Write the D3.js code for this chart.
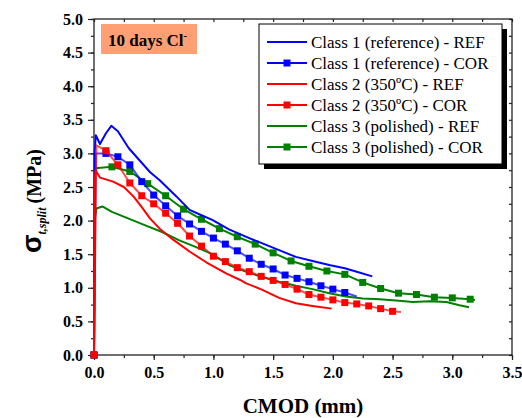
<!DOCTYPE html>
<html>
<head>
<meta charset="utf-8">
<script src="https://cdn.jsdelivr.net/npm/d3@7"></script>
<style>
  body { margin: 0; background: #fff; }
  svg { display: block; }
</style>
</head>
<body>
<svg width="522" height="418"></svg>
<script>
// ---- data ----
var xTicks = [0, 0.5, 1, 1.5, 2, 2.5, 3, 3.5];
var yTicks = [0, 0.5, 1, 1.5, 2, 2.5, 3, 3.5, 4, 4.5, 5];

// Class 1 (reference) - REF
var c1RefX = [0, 0.005, 0.015, 0.05, 0.10, 0.145, 0.20, 0.29, 0.39, 0.47, 0.55, 0.69, 0.80, 0.90, 0.99, 1.13, 1.30, 1.41, 1.55, 1.69, 1.83, 1.97, 2.10, 2.20, 2.33];
var c1RefY = [0, 3.00, 3.27, 3.14, 3.30, 3.41, 3.33, 3.08, 2.88, 2.72, 2.60, 2.36, 2.16, 2.08, 2.01, 1.87, 1.74, 1.66, 1.56, 1.46, 1.40, 1.34, 1.29, 1.24, 1.17];
// Class 1 (reference) - COR
var c1CorX = [0, 0.015, 0.1, 0.2, 0.3, 0.4, 0.5, 0.6, 0.7, 0.8, 0.9, 1.0, 1.1, 1.2, 1.3, 1.4, 1.5, 1.6, 1.7, 1.8, 1.9, 2.0, 2.1, 2.2];
var c1CorY = [0, 3.00, 3.00, 2.95, 2.83, 2.58, 2.38, 2.22, 2.07, 1.95, 1.84, 1.74, 1.65, 1.55, 1.44, 1.35, 1.28, 1.19, 1.14, 1.09, 1.03, 0.98, 0.93, 0.87];
// Class 2 (350ºC) - REF
var c2RefX = [0, 0.005, 0.012, 0.05, 0.16, 0.25, 0.33, 0.40, 0.47, 0.55, 0.66, 0.80, 0.94, 1.11, 1.22, 1.27, 1.41, 1.55, 1.69, 1.83, 1.99];
var c2RefY = [0, 2.50, 2.75, 2.64, 2.58, 2.50, 2.36, 2.20, 2.03, 1.88, 1.72, 1.54, 1.38, 1.21, 1.12, 1.07, 0.97, 0.85, 0.77, 0.73, 0.69];
// Class 2 (350ºC) - COR
var c2CorX = [0, 0.02, 0.1, 0.2, 0.3, 0.4, 0.5, 0.6, 0.7, 0.8, 0.9, 1.0, 1.1, 1.2, 1.3, 1.4, 1.5, 1.6, 1.7, 1.8, 1.9, 2.0, 2.1, 2.2, 2.3, 2.4, 2.5, 2.57];
var c2CorY = [0, 3.12, 3.04, 2.83, 2.56, 2.37, 2.25, 2.11, 1.96, 1.77, 1.62, 1.47, 1.39, 1.30, 1.24, 1.17, 1.11, 1.05, 0.98, 0.90, 0.86, 0.82, 0.78, 0.76, 0.73, 0.69, 0.65, 0.64];
// Class 3 (polished) - REF
var c3RefX = [0, 0.005, 0.02, 0.07, 0.15, 0.29, 0.43, 0.57, 0.71, 0.85, 0.99, 1.13, 1.27, 1.41, 1.55, 1.69, 1.83, 1.97, 2.11, 2.25, 2.39, 2.53, 2.67, 2.81, 2.95, 3.06, 3.14];
var c3RefY = [0, 2.00, 2.18, 2.21, 2.13, 2.03, 1.93, 1.83, 1.71, 1.61, 1.50, 1.34, 1.24, 1.16, 1.09, 1.03, 0.98, 0.92, 0.87, 0.84, 0.83, 0.81, 0.79, 0.80, 0.79, 0.74, 0.71];
// Class 3 (polished) - COR
var c3CorX = [0, 0.01, 0.15, 0.30, 0.45, 0.60, 0.75, 0.90, 1.05, 1.20, 1.35, 1.50, 1.65, 1.80, 1.95, 2.10, 2.25, 2.40, 2.55, 2.70, 2.85, 3.00, 3.15, 3.19];
var c3CorY = [0, 2.78, 2.80, 2.73, 2.55, 2.37, 2.17, 2.02, 1.88, 1.76, 1.65, 1.52, 1.40, 1.32, 1.25, 1.20, 1.08, 0.99, 0.92, 0.90, 0.86, 0.85, 0.83, 0.82];

var legendNames = ["Class 1 (reference) - REF", "Class 1 (reference) - COR",
                   "Class 2 (350ºC) - REF", "Class 2 (350ºC) - COR",
                   "Class 3 (polished) - REF", "Class 3 (polished) - COR"];

// ---- series table (drawing order: green, blue, red) ----
var series = [
  { name: legendNames[4], x: c3RefX, y: c3RefY, color: "#008000", cor: false },
  { name: legendNames[5], x: c3CorX, y: c3CorY, color: "#008000", cor: true },
  { name: legendNames[0], x: c1RefX, y: c1RefY, color: "#0000ff", cor: false },
  { name: legendNames[1], x: c1CorX, y: c1CorY, color: "#0000ff", cor: true },
  { name: legendNames[2], x: c2RefX, y: c2RefY, color: "#ff0000", cor: false },
  { name: legendNames[3], x: c2CorX, y: c2CorY, color: "#ff0000", cor: true }
];
var legendColors = ["#0000ff", "#0000ff", "#ff0000", "#ff0000", "#008000", "#008000"];

var svg = d3.select("svg");
var serif = "Liberation Serif";

var x = d3.scaleLinear().domain([0, 3.5]).range([94, 512]);
var y = d3.scaleLinear().domain([0, 5]).range([355, 19]);

var minorX = d3.range(0, 3.51, 0.25);
var minorY = d3.range(0, 5.01, 0.25);

// frame
svg.append("rect")
  .attr("x", x(0)).attr("y", y(5))
  .attr("width", x(3.5) - x(0)).attr("height", y(0) - y(5))
  .attr("fill", "none").attr("stroke", "#222").attr("stroke-width", 1.3);

function styleAxis(g) {
  g.attr("font-family", serif);
  g.select(".domain").remove();
  g.selectAll("line").attr("stroke", "#222").attr("stroke-width", 1.2);
}

// bottom minor + major ticks
svg.append("g").attr("transform", "translate(0," + y(0) + ")")
  .call(d3.axisBottom(x).tickValues(minorX).tickSize(3).tickFormat(""))
  .call(styleAxis);
svg.append("g").attr("transform", "translate(0," + y(0) + ")")
  .call(d3.axisBottom(x).tickValues(xTicks).tickSize(5).tickPadding(7).tickFormat(d3.format(".1f")))
  .call(styleAxis)
  .selectAll("text")
  .attr("font-weight", "bold").attr("font-size", 16).attr("fill", "#000");

// left
svg.append("g").attr("transform", "translate(" + x(0) + ",0)")
  .call(d3.axisLeft(y).tickValues(minorY).tickSize(3).tickFormat(""))
  .call(styleAxis);
svg.append("g").attr("transform", "translate(" + x(0) + ",0)")
  .call(d3.axisLeft(y).tickValues(yTicks).tickSize(6).tickPadding(5).tickFormat(d3.format(".1f")))
  .call(styleAxis)
  .selectAll("text")
  .attr("font-weight", "bold").attr("font-size", 16).attr("fill", "#000");

// top and right mirrored ticks, pointing inward
svg.append("g").attr("transform", "translate(0," + y(5) + ")")
  .call(d3.axisBottom(x).tickValues(minorX).tickSize(3).tickFormat(""))
  .call(styleAxis);
svg.append("g").attr("transform", "translate(" + x(3.5) + ",0)")
  .call(d3.axisLeft(y).tickValues(minorY).tickSize(3).tickFormat(""))
  .call(styleAxis);

// axis titles
svg.append("text")
  .attr("x", 303).attr("y", 413)
  .attr("text-anchor", "middle")
  .attr("font-family", serif).attr("font-weight", "bold").attr("font-size", 21)
  .text("CMOD (mm)");

var yt = svg.append("text")
  .attr("transform", "translate(41,201) rotate(-90)")
  .attr("text-anchor", "middle")
  .attr("font-family", serif)
  .attr("font-weight", "bold");
yt.append("tspan").attr("font-family", "Liberation Sans").attr("font-size", 27).text("σ");
yt.append("tspan").attr("dy", 5).attr("font-style", "italic").attr("font-size", 12).text("t,split");
yt.append("tspan").attr("dy", -5).attr("dx", 4).attr("font-size", 20).text("(MPa)");

// curves
var line = d3.line()
  .x(function(d) { return x(d[0]); })
  .y(function(d) { return y(d[1]); });

series.forEach(function(s) {
  var pts = d3.zip(s.x, s.y);
  svg.append("path")
    .datum(pts)
    .attr("d", line)
    .attr("fill", "none")
    .attr("stroke", s.color)
    .attr("stroke-opacity", s.cor && s.color != "#008000" ? 0.7 : 1)
    .attr("stroke-width", 2)
    .attr("stroke-linejoin", "round");
  if (s.cor) {
    // markers on every point except the ramp top and the line end
    var marks = pts.filter(function(d, i) { return i != 1 && !(i == pts.length - 1 && s.x[i] * 100 % 5 != 0); });
    svg.selectAll(null)
      .data(marks)
      .enter().append("rect")
      .attr("x", function(d) { return x(d[0]) - 3.5; })
      .attr("y", function(d) { return y(d[1]) - 3.5; })
      .attr("width", 7).attr("height", 7)
      .attr("fill", s.color);
  }
});

// label box
svg.append("rect")
  .attr("x", 101).attr("y", 24).attr("width", 96).attr("height", 30)
  .attr("fill", "#ff9f73");
var lab = svg.append("text")
  .attr("x", 108).attr("y", 46)
  .attr("font-family", serif).attr("font-weight", "bold").attr("font-size", 17);
lab.append("tspan").text("10 days Cl");
lab.append("tspan").attr("dy", -7).attr("font-size", 11).text("-");

// legend
svg.append("rect")
  .attr("x", 264).attr("y", 29).attr("width", 243).attr("height", 140)
  .attr("fill", "#000");
svg.append("rect")
  .attr("x", 259).attr("y", 24).attr("width", 243).attr("height", 140)
  .attr("fill", "#fff").attr("stroke", "#000").attr("stroke-width", 1);

var leg = svg.append("g");
legendNames.forEach(function(n, i) {
  var ly = 42 + i * 21;
  leg.append("line")
    .attr("x1", 267).attr("x2", 307).attr("y1", ly).attr("y2", ly)
    .attr("stroke", legendColors[i]).attr("stroke-width", 2);
  if (i % 2 == 1) {
    leg.append("rect")
      .attr("x", 287 - 3.5).attr("y", ly - 3.5).attr("width", 7).attr("height", 7)
      .attr("fill", legendColors[i]);
  }
  leg.append("text")
    .attr("x", 311).attr("y", ly + 6)
    .attr("font-family", serif).attr("font-size", 17)
    .text(n);
});
</script>
</body>
</html>
